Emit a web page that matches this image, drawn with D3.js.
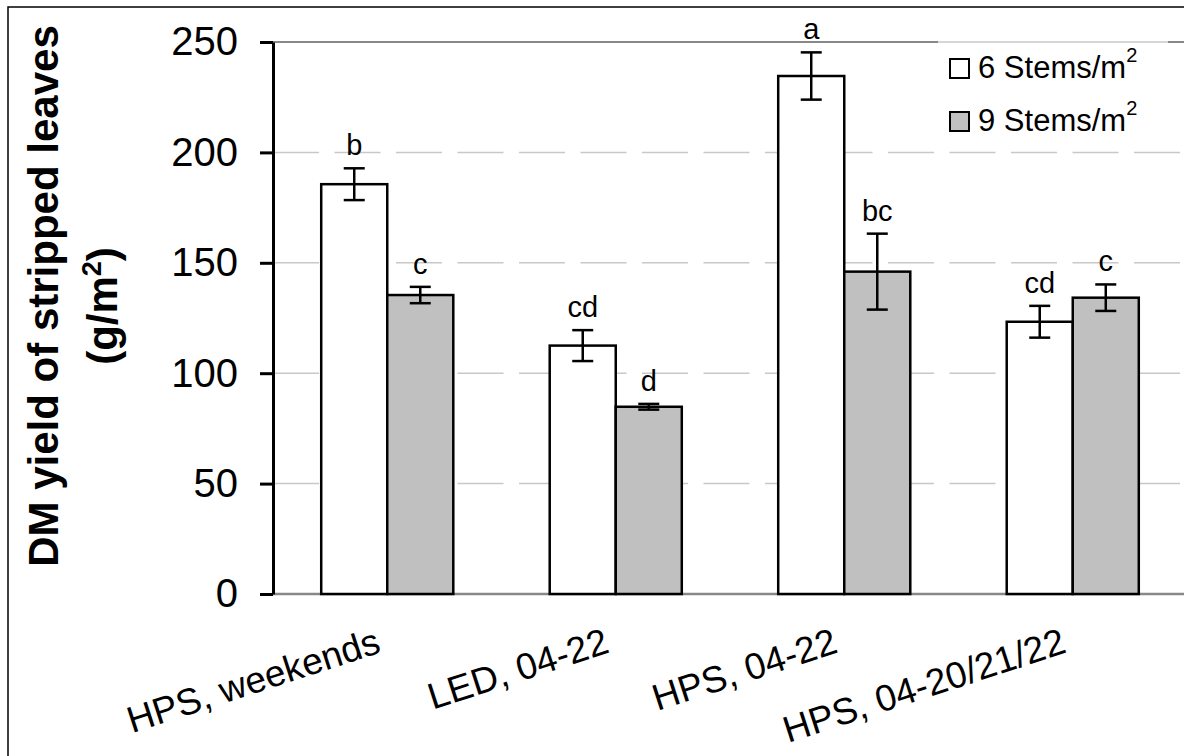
<!DOCTYPE html>
<html>
<head>
<meta charset="utf-8">
<script src="https://cdn.jsdelivr.net/npm/d3@7"></script>
<style>
  body { margin: 0; background: #fff; }
  text { font-family: "Liberation Sans", Arial, sans-serif; fill: #000; }
</style>
</head>
<body>
<div id="chart"></div>
<script>
// data
const categories = ['HPS, weekends', 'LED, 04-22', 'HPS, 04-22', 'HPS, 04-20/21/22'];
const seriesNames = ['6 Stems/m', '9 Stems/m'];
const stems6 = [185.6, 112.5, 234.6, 123.3];
const stems6Err = [7.2, 7.0, 10.7, 7.2];
const stems9 = [135.4, 84.8, 146.0, 134.2];
const stems9Err = [3.7, 1.3, 17.2, 6.0];
const letters6 = ['b', 'cd', 'a', 'cd'];
const letters9 = ['c', 'd', 'bc', 'c'];
const yTicks = [0, 50, 100, 150, 200, 250];

const W = 1184, H = 756;
const colors = ['#ffffff', '#c0c0c0'];

// rows: one per category and series
let rows = [];
categories.forEach((c, i) => {
  rows.push({ cat: c, s: 0, v: stems6[i], e: stems6Err[i], l: letters6[i] });
  rows.push({ cat: c, s: 1, v: stems9[i], e: stems9Err[i], l: letters9[i] });
});

let svg = d3.select('#chart').append('svg').attr('width', W).attr('height', H);

// outer frame
svg.append('rect')
  .attr('x', 8).attr('y', 7)
  .attr('width', W).attr('height', H)
  .attr('fill', 'none').attr('stroke', '#000').attr('stroke-width', 1.5);

let x = d3.scaleBand().domain(categories).range([273, 1187])
  .paddingInner(0.422).paddingOuter(0.211);
let xSub = d3.scaleBand().domain([0, 1]).range([0, x.bandwidth()]);
let y = d3.scaleLinear().domain([0, 250]).range([594, 42]);

// gridlines
svg.append('g').selectAll('line')
  .data(yTicks.filter(d => d > 0 && d < 250))
  .enter().append('line')
  .attr('x1', 273).attr('x2', W)
  .attr('y1', d => y(d)).attr('y2', d => y(d))
  .attr('stroke', '#c8c8c8').attr('stroke-width', 1.5)
  .attr('stroke-dasharray', '46,15.5');
svg.append('line')
  .attr('x1', 273).attr('x2', W)
  .attr('y1', y(250)).attr('y2', y(250))
  .attr('stroke', '#888').attr('stroke-width', 2);

// x axis baseline
svg.append('line')
  .attr('x1', 273).attr('x2', W)
  .attr('y1', y(0)).attr('y2', y(0))
  .attr('stroke', '#888').attr('stroke-width', 2.5);

// bars
svg.append('g').selectAll('rect')
  .data(rows).enter().append('rect')
  .attr('x', d => x(d.cat) + xSub(d.s))
  .attr('width', xSub.bandwidth())
  .attr('y', d => y(d.v))
  .attr('height', d => y(0) - y(d.v))
  .attr('fill', d => colors[d.s])
  .attr('stroke', '#000').attr('stroke-width', 2.5);

// error bars
let err = svg.append('g').attr('stroke', '#000').attr('stroke-width', 2.5);
let cx = d => x(d.cat) + xSub(d.s) + xSub.bandwidth() / 2;
err.selectAll('.stem').data(rows).enter().append('line')
  .attr('x1', cx).attr('x2', cx)
  .attr('y1', d => y(d.v + d.e)).attr('y2', d => y(d.v - d.e));
err.selectAll('.capTop').data(rows).enter().append('line')
  .attr('x1', d => cx(d) - 10.5).attr('x2', d => cx(d) + 10.5)
  .attr('y1', d => y(d.v + d.e)).attr('y2', d => y(d.v + d.e));
err.selectAll('.capBot').data(rows).enter().append('line')
  .attr('x1', d => cx(d) - 10.5).attr('x2', d => cx(d) + 10.5)
  .attr('y1', d => y(d.v - d.e)).attr('y2', d => y(d.v - d.e));

// significance letters
svg.append('g').selectAll('text')
  .data(rows).enter().append('text')
  .attr('x', cx)
  .attr('y', d => y(d.v + d.e) - 13)
  .attr('text-anchor', 'middle')
  .attr('font-size', 29)
  .text(d => d.l);

// y axis
let yAxis = svg.append('g')
  .attr('transform', 'translate(273,0)')
  .call(d3.axisLeft(y).tickValues(yTicks).tickSize(13).tickSizeOuter(0).tickPadding(22));
yAxis.select('.domain').attr('stroke', '#000').attr('stroke-width', 3);
yAxis.selectAll('.tick line').attr('stroke', '#000').attr('stroke-width', 3);
yAxis.selectAll('.tick text')
  .attr('font-size', 40)
  .attr('font-family', '"Liberation Sans", Arial, sans-serif')
  .attr('fill', '#000');

// x labels
svg.append('g').selectAll('text')
  .data(categories).enter().append('text')
  .attr('transform', d => `translate(${x(d) + x.bandwidth() / 2 - 5},652) rotate(-18)`)
  .attr('text-anchor', 'end')
  .attr('font-size', 37)
  .text(d => d);

// y title
let yTitle = svg.append('g').attr('font-weight', 'bold').attr('font-size', 42);
yTitle.append('text')
  .attr('transform', 'translate(58,296) rotate(-90)')
  .attr('text-anchor', 'middle')
  .text('DM yield of stripped leaves');
let t2 = yTitle.append('text')
  .attr('transform', 'translate(117,306) rotate(-90)')
  .attr('text-anchor', 'middle');
t2.append('tspan').text('(g/m');
t2.append('tspan').attr('font-size', 27).attr('dy', -16).text('2');
t2.append('tspan').attr('dy', 16).text(')');

// legend
let legend = svg.append('g');
legend.append('rect')
  .attr('x', 938).attr('y', 41).attr('width', 230).attr('height', 106)
  .attr('fill', '#fff');
legend.append('line')
  .attr('x1', 938).attr('x2', 1168).attr('y1', 42).attr('y2', 42)
  .attr('stroke', '#c8c8c8').attr('stroke-width', 1.5);
let li = legend.selectAll('.item').data(seriesNames).enter().append('g')
  .attr('transform', (d, i) => `translate(950,${59 + i * 53})`);
li.append('rect')
  .attr('width', 19).attr('height', 19)
  .attr('fill', (d, i) => colors[i])
  .attr('stroke', '#000').attr('stroke-width', 2);
let lt = li.append('text')
  .attr('x', 28).attr('y', 19)
  .attr('font-size', 31);
lt.append('tspan').text(d => d);
lt.append('tspan').attr('font-size', 20).attr('dy', -16).text('2');
</script>
</body>
</html>
